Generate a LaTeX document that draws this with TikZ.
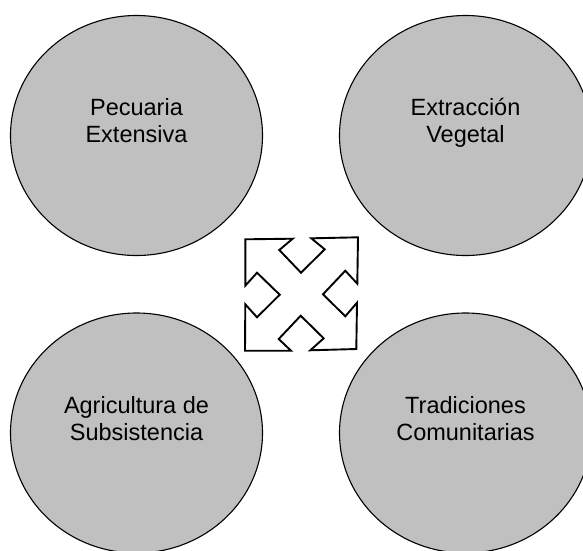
\documentclass[tikz,border=0pt]{standalone}
\usepackage{fontspec}
\setmainfont{Liberation Sans}
\usetikzlibrary{shapes.geometric}
\definecolor{discgray}{HTML}{C0C0C0}
\tikzset{
  disc/.style={ellipse,draw=black,fill=discgray,line width=1.1pt,minimum width=252pt,minimum height=240pt,inner sep=0pt,outer sep=0pt},
  disclabel/.style={align=center,font=\fontsize{23.5}{26.7}\selectfont,inner sep=0pt,text=black},
  crossarrow/.style={draw=black,fill=white,line width=1.9pt,miter limit=10}
}
\begin{document}
\begin{tikzpicture}[x=1pt,y=-1pt]
\useasboundingbox (0,0) rectangle (583,550);
\clip (0,0) rectangle (583,550);
\node[disc] (pecuaria) at (136.5,135.5) {};
\node[disc] (extraccion) at (465.5,135.5) {};
\node[disc] (agricultura) at (136.5,433) {};
\node[disc] (tradiciones) at (465.5,433) {};
\node[disclabel] (tpecuaria) at (136.5,123.5) {\strut Pecuaria\strut\\\strut Extensiva\strut};
\node[disclabel] (textraccion) at (465.5,123.5) {\strut Extracción\strut\\\strut Vegetal\strut};
\node[disclabel] (tagricultura) at (136.5,421.5) {\strut Agricultura de\strut\\\strut Subsistencia\strut};
\node[disclabel] (ttradiciones) at (465.5,421.5) {\strut Tradiciones\strut\\\strut Comunitarias\strut};
\draw[crossarrow] (245.3,239.3) -- (292.7,238.7) -- (279.3,250) -- (301,272.7) -- (324.7,249.3) -- (311.3,238.3) -- (358,237.3) -- (357.3,283.7) -- (345.3,270.7) -- (323,294.3) -- (345.3,316.3) -- (357,302.7) -- (356.3,349) -- (310.3,350.3) -- (323.7,338.3) -- (300.7,315.7) -- (278.7,339) -- (291,350.7) -- (245,350.7) -- (245.3,304.3) -- (257,317.3) -- (279.7,294.7) -- (257,272.7) -- (245.3,285.7) -- cycle;
\end{tikzpicture}
\end{document}
